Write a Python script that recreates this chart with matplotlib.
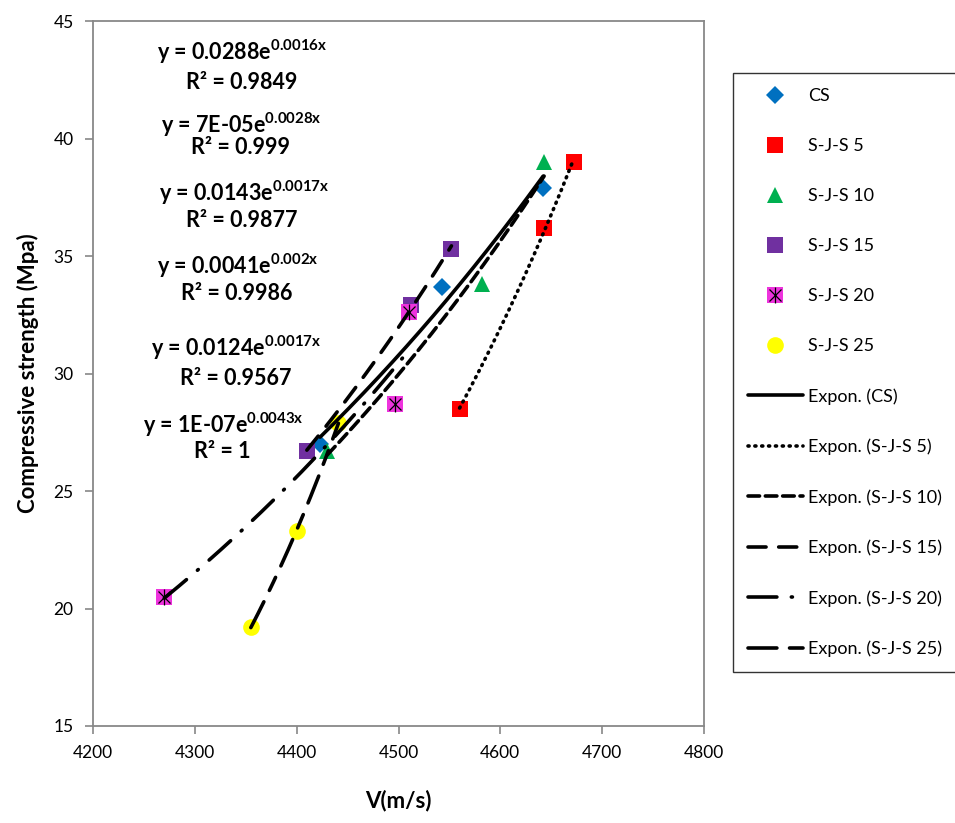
import numpy as np
import matplotlib
matplotlib.use('Agg')
import matplotlib.pyplot as plt

plt.rcParams['font.family'] = ['Lato', 'DejaVu Sans']
plt.rcParams['mathtext.fontset'] = 'custom'
plt.rcParams['mathtext.rm'] = 'Lato:bold'
plt.rcParams['mathtext.bf'] = 'Lato:bold'
plt.rcParams['mathtext.it'] = 'Lato:bold'

# data
cs_x = [4423, 4543, 4642]
cs_y = [27.0, 33.7, 37.9]
s5_x = [4560, 4643, 4672]
s5_y = [28.5, 36.2, 39.0]
s10_x = [4430, 4582, 4643]
s10_y = [26.7, 33.8, 39.0]
s15_x = [4410, 4512, 4552]
s15_y = [26.7, 32.9, 35.3]
s20_x = [4270, 4497, 4510]
s20_y = [20.5, 28.7, 32.6]
s25_x = [4355, 4400, 4441]
s25_y = [19.2, 23.3, 27.9]

equations = [r'y = 0.0288e$^{\mathbf{0.0016x}}$', r'y = 7E-05e$^{\mathbf{0.0028x}}$',
             r'y = 0.0143e$^{\mathbf{0.0017x}}$', r'y = 0.0041e$^{\mathbf{0.002x}}$',
             r'y = 0.0124e$^{\mathbf{0.0017x}}$', r'y = 1E-07e$^{\mathbf{0.0043x}}$']
r2 = ['R² = 0.9849', 'R² = 0.999', 'R² = 0.9877', 'R² = 0.9986',
      'R² = 0.9567', 'R² = 1']
eq_pos = [(4347, 43.7), (4346, 40.6), (4348, 37.7), (4342, 34.6),
          (4341, 31.1), (4328, 27.8)]
r2_pos = [(4346, 42.4), (4345, 39.6), (4346, 36.5), (4341, 33.4),
          (4340, 29.8), (4327, 26.7)]

fig = plt.figure(figsize=(9.55, 8.23), dpi=100)
ax = fig.add_axes([93 / 955, 1 - 726 / 823, (704 - 93) / 955, (726 - 21) / 823])

series = [
    ('CS', cs_x, cs_y, dict(marker='D', color='#0070C0', ms=9), '-'),
    ('S-J-S 5', s5_x, s5_y, dict(marker='s', color='#FF0000', ms=11), (0, (0.3, 1.6))),
    ('S-J-S 10', s10_x, s10_y, dict(marker='^', color='#00B050', ms=12), (0, (3.2, 1.6))),
    ('S-J-S 15', s15_x, s15_y, dict(marker='s', color='#7030A0', ms=12), (0, (5, 3.5))),
    ('S-J-S 20', s20_x, s20_y, dict(marker='s', color='#EE33DD', ms=12), (0, (8, 4, 0.3, 4))),
    ('S-J-S 25', s25_x, s25_y, dict(marker='o', color='#FFFF00', ms=12), (0, (8, 3.5, 4, 3.5))),
]

marker_handles = []
line_handles = []
for name, xs, ys, mk, ls in series:
    h = ax.plot(xs, ys, linestyle='none', marker=mk['marker'], color=mk['color'],
                markersize=mk['ms'], markeredgewidth=0, zorder=2)[0]
    if name == 'S-J-S 20':
        hx = ax.plot(xs, ys, linestyle='none', marker='x', color='black',
                     markersize=9, markeredgewidth=0.9, zorder=2.1)[0]
        hv = ax.plot(xs, ys, linestyle='none', marker='|', color='black',
                     markersize=11, markeredgewidth=0.9, zorder=2.1)[0]
        h = (h, hx, hv)
    marker_handles.append(h)
    # exponential trend line fitted to the points
    b, a = np.polyfit(xs, np.log(ys), 1)
    xx = np.linspace(min(xs), max(xs), 200)
    lh = ax.plot(xx, np.exp(a) * np.exp(b * xx), color='black', lw=2.6,
                 linestyle=ls, dash_capstyle='round', solid_capstyle='round',
                 zorder=3)[0]
    line_handles.append(lh)

for txt, (x, y) in zip(equations, eq_pos):
    ax.text(x, y, txt, ha='center', va='center', fontsize=15.5, fontweight='bold')
for txt, (x, y) in zip(r2, r2_pos):
    ax.text(x, y, txt, ha='center', va='center', fontsize=15.5, fontweight='bold')

ax.set_xlim(4200, 4800)
ax.set_ylim(15, 45)
ax.set_xticks(np.arange(4200, 4801, 100))
ax.set_yticks(np.arange(15, 46, 5))
for s in ax.spines.values():
    s.set_color('#888888')
    s.set_linewidth(1.3)
ax.tick_params(direction='out', length=6, width=1.2, color='#888888',
               labelsize=12.5, pad=8)
ax.set_xlabel('V(m/s)', fontsize=16, fontweight='bold', labelpad=20)
ax.set_ylabel('Compressive strength (Mpa)', fontsize=16, fontweight='bold', labelpad=10)

labels = [s[0] for s in series] + ['Expon. (%s)' % s[0] for s in series]
leg = fig.legend(marker_handles + line_handles, labels, loc='upper left',
                 bbox_to_anchor=(733 / 955, 1 - 73 / 823), fontsize=13,
                 frameon=True, fancybox=False, edgecolor='black',
                 handlelength=3.0, labelspacing=1.88, borderpad=0.85,
                 handletextpad=0.3, borderaxespad=0)
leg.get_frame().set_linewidth(1.0)

fig.savefig('out.png', dpi=100)
